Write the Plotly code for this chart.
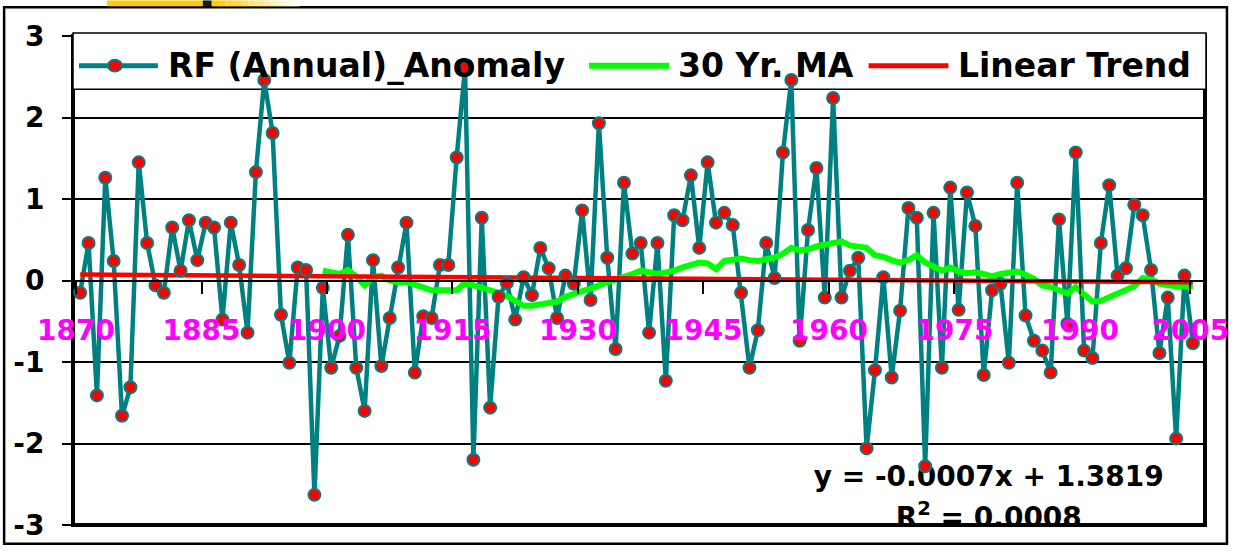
import plotly.graph_objects as go

# ---------------- data ----------------
years = list(range(1870, 2004))
rf_anomaly = [
    -0.15, 0.46, -1.41, 1.26, 0.24, -1.66, -1.31, 1.45, 0.46, -0.06,   # 1870-1879
    -0.15, 0.65, 0.12, 0.74, 0.25, 0.71, 0.65, -0.48, 0.71, 0.19,      # 1880-1889
    -0.64, 1.33, 2.46, 1.81, -0.42, -1.01, 0.16, 0.13, -2.63, -0.09,   # 1890-1899
    -1.07, -0.68, 0.56, -1.07, -1.60, 0.25, -1.05, -0.46, 0.16, 0.71,  # 1900-1909
    -1.13, -0.44, -0.46, 0.19, 0.19, 1.51, 2.61, -2.20, 0.77, -1.56,   # 1910-1919
    -0.20, -0.03, -0.48, 0.04, -0.18, 0.40, 0.15, -0.46, 0.06, -0.04,  # 1920-1929
    0.86, -0.24, 1.93, 0.28, -0.84, 1.20, 0.33, 0.46, -0.64, 0.46,     # 1930-1939
    -1.23, 0.80, 0.74, 1.29, 0.40, 1.45, 0.71, 0.83, 0.68, -0.15,      # 1940-1949
    -1.07, -0.61, 0.46, 0.03, 1.57, 2.46, -0.74, 0.62, 1.38, -0.21,    # 1950-1959
    2.24, -0.21, 0.12, 0.28, -2.06, -1.10, 0.04, -1.19, -0.37, 0.89,   # 1960-1969
    0.77, -2.28, 0.83, -1.07, 1.14, -0.36, 1.08, 0.67, -1.16, -0.12,   # 1970-1979
    -0.04, -1.01, 1.20, -0.43, -0.74, -0.86, -1.13, 0.75, -0.53, 1.57, # 1980-1989
    -0.86, -0.95, 0.46, 1.17, 0.06, 0.15, 0.93, 0.80, 0.13, -0.89,     # 1990-1999
    -0.21, -1.94, 0.06, -0.77,                                         # 2000-2003
]

ma_years = list(range(1899, 2004))
ma_30yr = [
    0.12,                                                              # 1899
    0.10, 0.08, 0.13, 0.05, -0.06, 0.04, 0.06, 0.00, -0.02, -0.02,     # 1900-1909
    -0.05, -0.09, -0.12, -0.12, -0.12, -0.12, -0.03, -0.06, -0.08, -0.11,  # 1910-1919
    -0.15, -0.19, -0.25, -0.31, -0.31, -0.29, -0.28, -0.26, -0.20, -0.16,  # 1920-1929
    -0.13, -0.10, -0.05, -0.02, 0.01, 0.04, 0.08, 0.12, 0.10, 0.08,    # 1930-1939
    0.10, 0.12, 0.16, 0.19, 0.22, 0.21, 0.14, 0.24, 0.25, 0.27,        # 1940-1949
    0.25, 0.24, 0.26, 0.28, 0.33, 0.40, 0.37, 0.38, 0.42, 0.44,        # 1950-1959
    0.46, 0.48, 0.43, 0.41, 0.40, 0.31, 0.29, 0.25, 0.22, 0.25,        # 1960-1969
    0.31, 0.22, 0.17, 0.12, 0.16, 0.11, 0.09, 0.10, 0.08, 0.05,        # 1970-1979
    0.08, 0.09, 0.11, 0.07, 0.02, -0.06, -0.08, -0.12, -0.16, -0.08,   # 1980-1989
    -0.18, -0.26, -0.25, -0.20, -0.15, -0.10, -0.07, 0.03, 0.02, -0.04,  # 1990-1999
    -0.06, -0.07, -0.07, -0.07,                                        # 2000-2003
]

trend_years = [1870, 2003]
trend_values = [0.073, -0.020]

x_tick_years = [1869.5, 1884.5, 1899.5, 1914.5, 1929.5, 1944.5, 1959.5, 1974.5, 1989.5, 2002.7]
x_tick_labels = ["1870", "1885", "1900", "1915", "1930", "1945", "1960", "1975", "1990", "2005"]
y_tick_values = [-3, -2, -1, 0, 1, 2, 3]
y_tick_labels = ["-3", "-2", "-1", "0", "1", "2", "3"]

legend_names = ["RF (Annual)_Anomaly", "30 Yr. MA", "Linear Trend"]
equation_text = "y = -0.0007x + 1.3819"
r2_text = "R<sup>2</sup> = 0.0008"
equation_pos = (1978.6, -2.44)
r2_pos = (1978.6, -2.94)

# ---------------- styling ----------------
W, H = 1241, 554
ML, MR, MT, MB = 73, 34, 36, 23
TEAL = "#008080"
GREEN = "#00FF00"
RED = "#FF0000"
MAGENTA = "#FF00FF"
FONT = "DejaVu Sans"


def xp(px):
    return (px - ML) / (W - ML - MR)


def yp(py):
    return (H - MB - py) / (H - MT - MB)


fig = go.Figure()

# equation / R^2 text (clipped by the plot area like the reference)
fig.add_trace(go.Scatter(
    x=[equation_pos[0], r2_pos[0]], y=[equation_pos[1], r2_pos[1]],
    text=[equation_text, r2_text], mode="text", cliponaxis=True,
    textfont=dict(family=FONT, size=28, color="black", weight="bold"),
    hoverinfo="skip", showlegend=False,
))

fig.add_trace(go.Scatter(
    x=years, y=rf_anomaly, mode="lines", name=legend_names[0],
    line=dict(color=TEAL, width=4.5), showlegend=False,
))
fig.add_trace(go.Scatter(
    x=ma_years, y=ma_30yr, mode="lines", name=legend_names[1],
    line=dict(color=GREEN, width=6), showlegend=False,
))
fig.add_trace(go.Scatter(
    x=trend_years, y=trend_values, mode="lines", name=legend_names[2],
    line=dict(color=RED, width=4.5), showlegend=False,
))
fig.add_trace(go.Scatter(
    x=years, y=rf_anomaly, mode="markers", name=legend_names[0],
    marker=dict(color=RED, size=12, line=dict(color=TEAL, width=2)),
    showlegend=False,
))

shapes = []
# outer chart border
shapes.append(dict(type="rect", xref="paper", yref="paper", layer="below",
                   x0=xp(4), x1=xp(1229), y0=yp(550), y1=yp(7),
                   line=dict(color="black", width=2.5), fillcolor="rgba(0,0,0,0)"))
# top decoration
shapes.append(dict(type="rect", xref="paper", yref="paper", layer="above",
                   x0=xp(107), x1=xp(203), y0=yp(6), y1=yp(0),
                   line=dict(width=0), fillcolor="#FFCC00"))
shapes.append(dict(type="rect", xref="paper", yref="paper", layer="above",
                   x0=xp(203), x1=xp(212), y0=yp(6), y1=yp(0),
                   line=dict(width=0), fillcolor="#1a1a1a"))
steps = 12
for i in range(steps):
    t = i / (steps - 1)
    r, g, b = 255, int(204 + (255 - 204) * t), int(0 + 255 * t)
    shapes.append(dict(type="rect", xref="paper", yref="paper", layer="above",
                       x0=xp(212 + i * 88 / steps), x1=xp(212 + (i + 1) * 88 / steps),
                       y0=yp(6), y1=yp(0), line=dict(width=0),
                       fillcolor=f"rgb({r},{g},{b})"))
# plot-area border (thick)
shapes.append(dict(type="rect", xref="paper", yref="paper", layer="between",
                   x0=0, x1=1, y0=0, y1=1,
                   line=dict(color="black", width=4), fillcolor="rgba(0,0,0,0)"))
# legend box
shapes.append(dict(type="rect", xref="paper", yref="paper", layer="between",
                   x0=xp(73), x1=xp(1208), y0=yp(90), y1=yp(33),
                   line=dict(color="black", width=1.5), fillcolor="white"))
# legend symbols
ly = yp(66)
shapes.append(dict(type="line", xref="paper", yref="paper", layer="between",
                   x0=xp(79), x1=xp(158), y0=ly, y1=ly, line=dict(color=TEAL, width=5)))
shapes.append(dict(type="circle", xref="paper", yref="paper", layer="between",
                   x0=xp(108), x1=xp(122), y0=yp(72), y1=yp(60),
                   line=dict(color=TEAL, width=2), fillcolor=RED))
shapes.append(dict(type="line", xref="paper", yref="paper", layer="between",
                   x0=xp(590), x1=xp(670), y0=ly, y1=ly, line=dict(color=GREEN, width=6)))
shapes.append(dict(type="line", xref="paper", yref="paper", layer="between",
                   x0=xp(870), x1=xp(950), y0=ly, y1=ly, line=dict(color=RED, width=5)))

annotations = []
for name, px in zip(legend_names, [166, 677, 958]):
    annotations.append(dict(xref="paper", yref="paper", x=xp(px), y=ly,
                            xanchor="left", yanchor="middle", showarrow=False,
                            text=name,
                            font=dict(family=FONT, size=33, color="black", weight="bold")))

fig.update_layout(
    width=W, height=H,
    margin=dict(l=ML, r=MR, t=MT, b=MB, pad=0),
    paper_bgcolor="white", plot_bgcolor="white",
    showlegend=False,
    shapes=shapes, annotations=annotations,
    xaxis=dict(
        range=[1869.14, 2004.45], anchor="free", position=0.5,
        showgrid=False, zeroline=False,
        showline=True, linecolor="black", linewidth=2,
        tickmode="array", tickvals=x_tick_years, ticktext=x_tick_labels,
        ticks="outside", ticklen=12, tickwidth=2, tickcolor="black",
        ticklabelstandoff=13,
        tickfont=dict(family=FONT, size=28, color=MAGENTA, weight="bold"),
    ),
    yaxis=dict(
        range=[-3, 3], showgrid=True, gridcolor="black", gridwidth=1.5,
        zeroline=False, showline=False,
        tickmode="array", tickvals=y_tick_values, ticktext=y_tick_labels,
        ticks="outside", ticklen=10, tickwidth=2, tickcolor="black",
        ticklabelstandoff=12,
        tickfont=dict(family=FONT, size=28, color="black", weight="bold"),
    ),
)

fig.write_html("out.html", config={"displayModeBar": False},
               post_script="document.body.style.margin='0';")
